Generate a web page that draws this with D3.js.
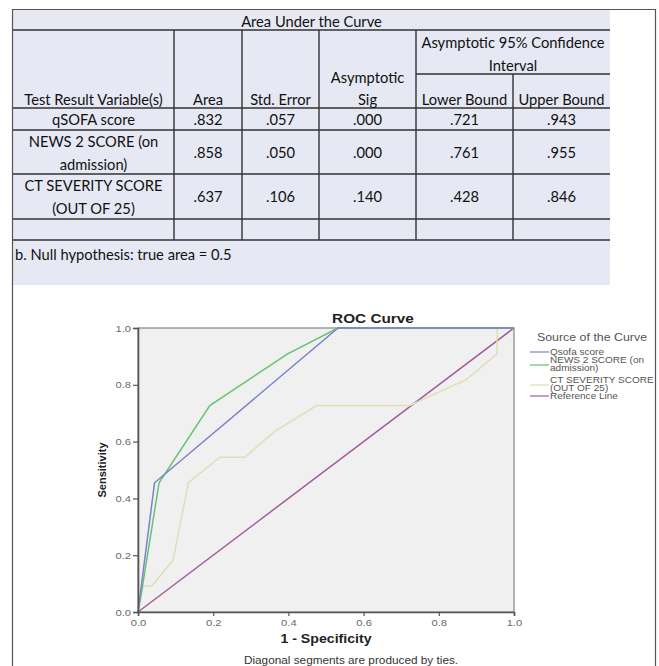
<!DOCTYPE html>
<html>
<head>
<meta charset="utf-8">
<script src="https://cdn.jsdelivr.net/npm/d3@7"></script>
<style>
  body { margin: 0; background: #fff; }
  svg { display: block; }
</style>
</head>
<body>
<svg id="j-svg" width="659" height="666" viewBox="0 0 659 666"></svg>
<script>
'use strict';

/* ---- table data ---- */
var tableTitle = 'Area Under the Curve';
var rowLabels = [['qSOFA score'], ['NEWS 2 SCORE (on', 'admission)'], ['CT SEVERITY SCORE', '(OUT OF 25)']];
var areas = ['.832', '.858', '.637'];
var stdErrors = ['.057', '.050', '.106'];
var sigs = ['.000', '.000', '.140'];
var lowerBounds = ['.721', '.761', '.428'];
var upperBounds = ['.943', '.955', '.846'];
var footnote = 'b. Null hypothesis: true area = 0.5';

/* ---- ROC curves (1 - specificity, sensitivity) ---- */
var qsofaFpr = [0, 0.044, 0.532, 1];
var qsofaTpr = [0, 0.455, 1, 1];
var newsFpr = [0, 0.012, 0.056, 0.191, 0.398, 0.532, 1];
var newsTpr = [0, 0.091, 0.455, 0.727, 0.909, 1, 1];
var ctFpr = [0, 0.013, 0.036, 0.093, 0.134, 0.218, 0.284, 0.364, 0.475, 0.723, 0.873, 0.955, 0.955, 1];
var ctTpr = [0, 0.091, 0.091, 0.182, 0.455, 0.545, 0.545, 0.636, 0.727, 0.727, 0.818, 0.909, 1, 1];
var refFpr = [0, 1];
var refTpr = [0, 1];

var tickValues = [0, 0.2, 0.4, 0.6, 0.8, 1.0];

var series = [
  { name: ['Qsofa score'], fpr: qsofaFpr, tpr: qsofaTpr, color: '#7d80cc' },
  { name: ['NEWS 2 SCORE (on', 'admission)'], fpr: newsFpr, tpr: newsTpr, color: '#62c56f' },
  { name: ['CT SEVERITY SCORE', '(OUT OF 25)'], fpr: ctFpr, tpr: ctTpr, color: '#dde0b4' },
  { name: ['Reference Line'], fpr: refFpr, tpr: refTpr, color: '#a45a9c' }
];

var svg = d3.select('#j-svg');
var arial = 'Arial, "Liberation Sans", sans-serif';
var stretch = 1.18; // chart text in the picture is wider than it is tall

// text that is stretched sideways around its anchor point
function wideText(parent, x, y, s, size, anchor) {
  return parent.append('text')
    .attr('transform', 'translate(' + x + ',' + y + ') scale(' + stretch + ',1)')
    .attr('text-anchor', anchor || 'middle')
    .attr('font-size', size)
    .text(s);
}

/* ---------- table ---------- */
var tableFont = 'Lato, "Open Sans", sans-serif';
var colX = [13, 174, 242, 319, 416, 513, 610];
var rowY = [30, 108, 130, 174, 219, 240];

svg.append('rect').attr('x', 13).attr('y', 9).attr('width', 597).attr('height', 276).attr('fill', '#e6e8f3');

// outer frame
svg.append('line').attr('x1', 12).attr('x2', 656).attr('y1', 9.5).attr('y2', 9.5).attr('stroke', '#555').attr('stroke-width', 1.2);
svg.append('line').attr('x1', 12.5).attr('x2', 12.5).attr('y1', 9).attr('y2', 666).attr('stroke', '#555').attr('stroke-width', 1.2);
svg.append('line').attr('x1', 655.5).attr('x2', 655.5).attr('y1', 9).attr('y2', 666).attr('stroke', '#555').attr('stroke-width', 1.2);

var grid = svg.append('g').attr('stroke', '#333').attr('stroke-width', 1.4);
rowY.forEach(function (y) {
  grid.append('line').attr('x1', 13).attr('x2', 610).attr('y1', y).attr('y2', y);
});
grid.append('line').attr('x1', colX[4]).attr('x2', colX[6]).attr('y1', 74).attr('y2', 74);
[1, 2, 3, 4].forEach(function (i) {
  grid.append('line').attr('x1', colX[i]).attr('x2', colX[i]).attr('y1', 30).attr('y2', 240);
});
grid.append('line').attr('x1', colX[5]).attr('x2', colX[5]).attr('y1', 74).attr('y2', 240);

var tt = svg.append('g').attr('font-family', tableFont).attr('font-size', 14.7).attr('fill', '#111');

function cell(x, y, s, anchor) {
  tt.append('text').attr('x', x).attr('y', y).attr('text-anchor', anchor || 'middle').text(s);
}

cell((colX[0] + colX[6]) / 2, 27, tableTitle);
cell((colX[0] + colX[1]) / 2, 105, 'Test Result Variable(s)');
cell((colX[1] + colX[2]) / 2, 105, 'Area');
cell((colX[2] + colX[3]) / 2, 105, 'Std. Error');
cell((colX[3] + colX[4]) / 2, 83, 'Asymptotic');
cell((colX[3] + colX[4]) / 2, 105, 'Sig');
cell((colX[4] + colX[6]) / 2, 48, 'Asymptotic 95% Confidence');
cell((colX[4] + colX[6]) / 2, 71, 'Interval');
cell((colX[4] + colX[5]) / 2, 105, 'Lower Bound');
cell((colX[5] + colX[6]) / 2, 105, 'Upper Bound');

var cols = [areas, stdErrors, sigs, lowerBounds, upperBounds];
rowLabels.forEach(function (lab, r) {
  var top = rowY[r + 1];
  var bot = rowY[r + 2];
  var mid = (top + bot) / 2 + 5.5;
  if (lab.length === 1) {
    cell((colX[0] + colX[1]) / 2, mid, lab[0]);
  } else {
    cell((colX[0] + colX[1]) / 2, mid - 11, lab[0]);
    cell((colX[0] + colX[1]) / 2, mid + 12, lab[1]);
  }
  cols.forEach(function (c, j) {
    cell((colX[j + 1] + colX[j + 2]) / 2, mid, c[r]);
  });
});

cell(15, 260, footnote, 'start');

/* ---------- ROC chart ---------- */
var x = d3.scaleLinear().domain([0, 1]).range([138, 514]);
var y = d3.scaleLinear().domain([0, 1]).range([612, 328]);

svg.append('rect').attr('x', x(0)).attr('y', y(1)).attr('width', x(1) - x(0)).attr('height', y(0) - y(1))
  .attr('fill', '#f0f0f0').attr('stroke', '#7f8a82').attr('stroke-width', 1.2);

var line = d3.line().x(function (d) { return x(d[0]); }).y(function (d) { return y(d[1]); });

var curves = svg.append('g').attr('fill', 'none').attr('stroke-width', 1.5);
series.slice().reverse().forEach(function (s) {
  var pts = s.fpr.map(function (f, i) { return [f, s.tpr[i]]; });
  curves.append('path').attr('d', line(pts)).attr('stroke', s.color);
});

var fmt = d3.format('.1f');
var xAxis = d3.axisBottom(x).tickValues(tickValues).tickFormat(fmt).tickSize(4).tickPadding(3);
var yAxis = d3.axisLeft(y).tickValues(tickValues).tickFormat(fmt).tickSize(5).tickPadding(2);

var gx = svg.append('g').attr('transform', 'translate(0,' + y(0) + ')').call(xAxis);
var gy = svg.append('g').attr('transform', 'translate(' + x(0) + ',0)').call(yAxis);
[gx, gy].forEach(function (g) {
  g.select('.domain').attr('stroke', '#555').attr('stroke-width', 1.6);
  g.selectAll('.tick line').attr('stroke', '#555').attr('stroke-width', 1.2);
  g.selectAll('.tick text').attr('font-family', arial).attr('font-size', 9.5).attr('fill', '#6a6a6a');
});
// widen the tick labels like the rest of the chart text
gx.selectAll('.tick text').attr('transform', 'scale(' + stretch + ',1)').attr('x', 0);
gy.selectAll('.tick text').attr('transform', 'translate(-7,0) scale(' + stretch + ',1)').attr('x', 0);

var labels = svg.append('g').attr('font-family', arial).attr('fill', '#222');
wideText(labels, 373, 323, 'ROC Curve', 13).attr('font-weight', 'bold');
wideText(labels, 326, 643, '1 - Specificity', 12).attr('font-weight', 'bold');
labels.append('text').attr('transform', 'translate(106,470) rotate(-90)').attr('text-anchor', 'middle')
  .attr('font-weight', 'bold').attr('font-size', 11).text('Sensitivity');
wideText(labels, 351, 664, 'Diagonal segments are produced by ties.', 10).attr('fill', '#333');

/* legend */
var lg = svg.append('g').attr('font-family', arial).attr('fill', '#555');
wideText(lg, 592, 341, 'Source of the Curve', 10.5);
var legendRows = [352, 360, 380, 396];
series.forEach(function (s, i) {
  var ty = legendRows[i];
  var ly = s.name.length > 1 ? ty + 5 : ty;
  lg.append('line').attr('x1', 530).attr('x2', 549).attr('y1', ly).attr('y2', ly)
    .attr('stroke', s.color).attr('stroke-width', 1.2);
  s.name.forEach(function (t, k) {
    wideText(lg, 550, ty + 3 + k * 8, t, 8.5, 'start');
  });
});
</script>
</body>
</html>
